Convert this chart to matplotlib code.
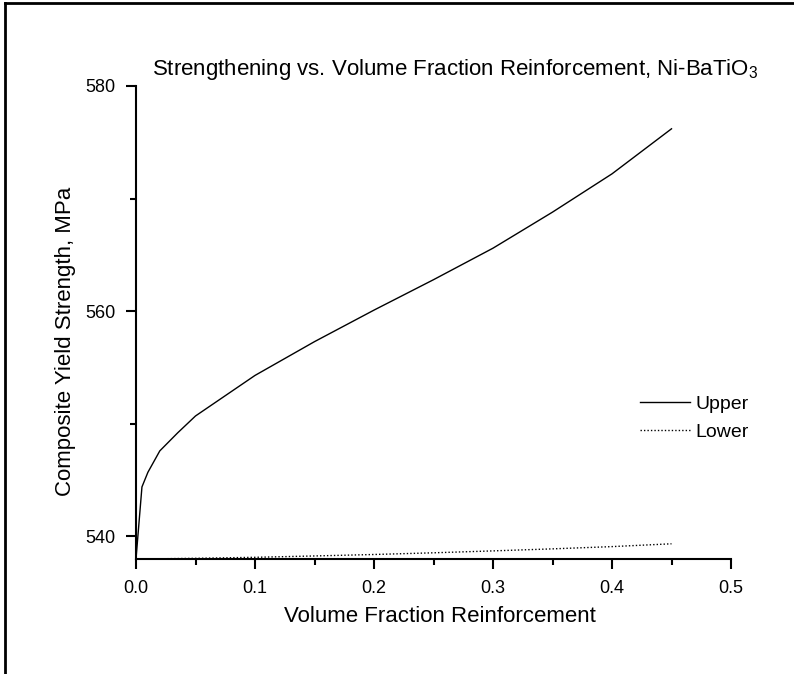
import matplotlib
matplotlib.use("Agg")
import matplotlib.pyplot as plt
from matplotlib.lines import Line2D
from matplotlib.ticker import MultipleLocator, FormatStrFormatter

plt.rcParams['font.family'] = ['Liberation Sans', 'DejaVu Sans']
plt.rcParams['mathtext.fontset'] = 'custom'
plt.rcParams['mathtext.rm'] = 'Liberation Sans'

vol_frac = [0.0, 0.005, 0.01, 0.02, 0.035, 0.05, 0.1, 0.15, 0.2, 0.25, 0.3, 0.35, 0.4, 0.45]
upper = [538.0, 544.4, 545.7, 547.6, 549.2, 550.7, 554.3, 557.3, 560.1, 562.8, 565.6, 568.8, 572.2, 576.2]
lower = [538.0, 538.0, 538.01, 538.02, 538.04, 538.06, 538.15, 538.27, 538.4, 538.55, 538.72, 538.9, 539.1, 539.35]
series_names = ["Upper", "Lower"]

W, H = 794, 674
fig = plt.figure(figsize=(W / 100, H / 100), dpi=100)
ax = fig.add_axes([136 / W, 1 - 559 / H, (731 - 136) / W, (559 - 86) / H])

ax.plot(vol_frac, upper, color='black', lw=1.0, ls='-', label=series_names[0])
ax.plot(vol_frac, lower, color='black', lw=1.0, ls=(0, (1, 1.5)), label=series_names[1])

ax.set_xlim(0, 0.5)
ax.set_ylim(538, 580)
ax.xaxis.set_major_locator(MultipleLocator(0.1))
ax.xaxis.set_minor_locator(MultipleLocator(0.05))
ax.yaxis.set_major_locator(MultipleLocator(20))
ax.yaxis.set_minor_locator(MultipleLocator(10))
ax.xaxis.set_major_formatter(FormatStrFormatter('%.1f'))

for s in ['top', 'right']:
    ax.spines[s].set_visible(False)
for s in ['left', 'bottom']:
    ax.spines[s].set_linewidth(1.5)
ax.tick_params(which='major', direction='out', length=7, width=1.5, labelsize=13, pad=8)
ax.tick_params(which='minor', direction='out', length=4, width=1.5)

ax.set_xlabel('Volume Fraction Reinforcement', fontsize=16)
ax.set_ylabel('Composite Yield Strength, MPa', fontsize=16)
ax.xaxis.set_label_coords((440 - 136) / 595, (559 - 606) / 473)
ax.yaxis.set_label_coords((76 - 136) / 595, (559 - 341) / 473)

fig.text(455 / W, 1 - 69 / H, r'Strengthening vs. Volume Fraction Reinforcement, Ni-BaTiO$_\mathregular{3}$',
         ha='center', va='center', fontsize=16)

leg = ax.legend(loc='center left', bbox_to_anchor=((640 - 136) / 595, (559 - 418) / 473), frameon=False,
                fontsize=14, handlelength=2.57, handletextpad=0.3, labelspacing=0.55, borderpad=0,
                borderaxespad=0)

fig.add_artist(Line2D([5 / W, 5 / W], [0, 1 - 3 / H], color='black', lw=2, transform=fig.transFigure))
fig.add_artist(Line2D([5 / W, 1], [1 - 3 / H, 1 - 3 / H], color='black', lw=2, transform=fig.transFigure))

fig.savefig('out.png', dpi=100)
